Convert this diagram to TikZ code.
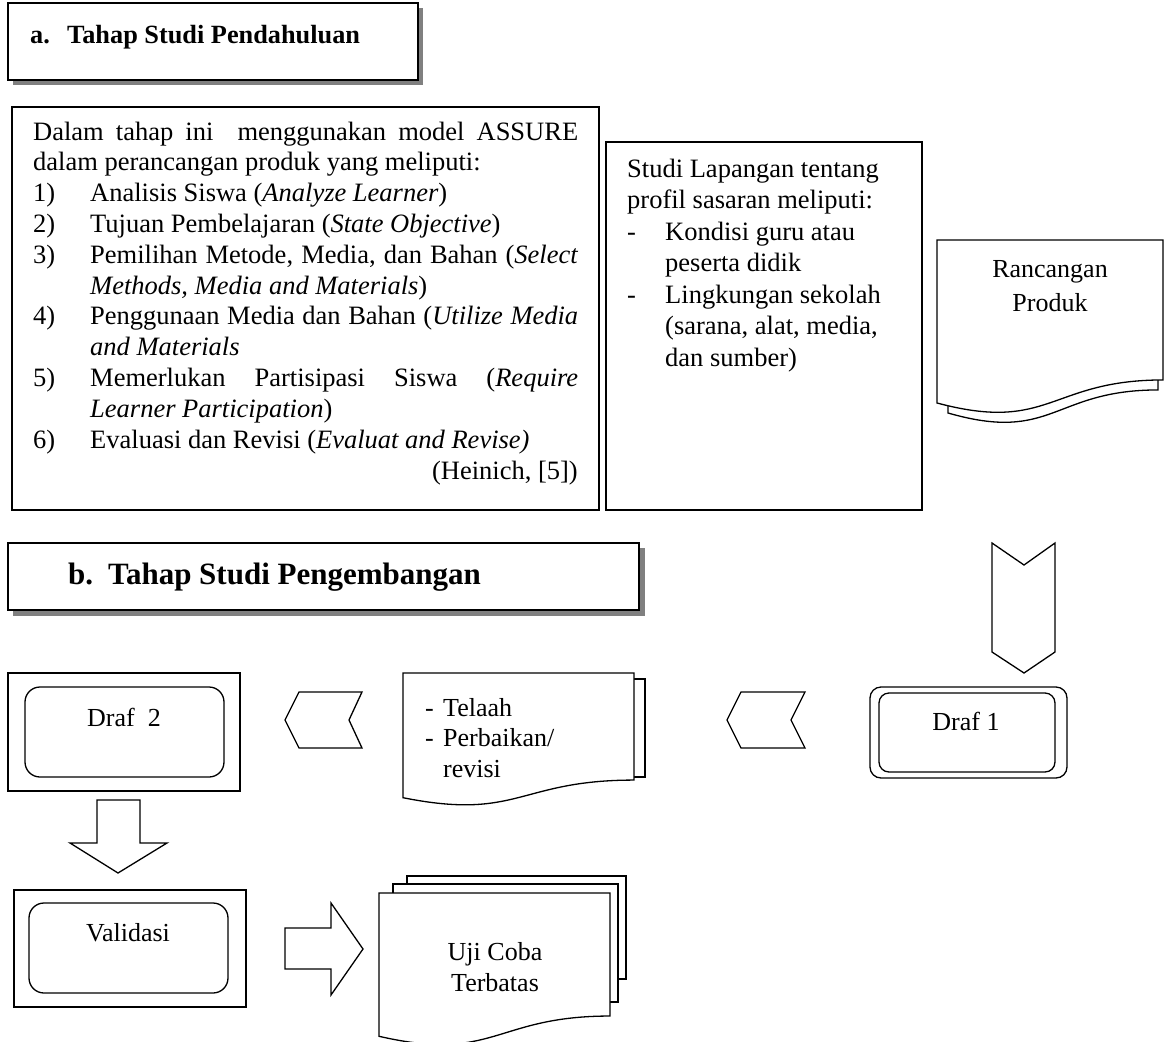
\documentclass[tikz,border=0pt]{standalone}
\usepackage{fontspec}
\setmainfont{Liberation Serif}
\definecolor{shadowgray}{HTML}{808080}
\tikzset{
  shp/.style={draw=black, line width=1.3pt, fill=white, line join=miter},
  body/.style={inner sep=0pt, anchor=base west, font=\fontsize{26.5}{30.8}\selectfont},
  bodyc/.style={inner sep=0pt, anchor=base, font=\fontsize{26}{30.8}\selectfont},
  hdra/.style={inner sep=0pt, anchor=base west, font=\fontsize{26.3}{30}\selectfont\bfseries},
  hdrb/.style={inner sep=0pt, anchor=base west, font=\fontsize{31}{36}\selectfont\bfseries},
}
% document shape: x0, y0, W, H
\newcommand{\mydocpath}[4]{%
  (#1,#2) -- ({#1+#3},#2) -- ({#1+#3},{#2+0.802*#4})
  .. controls ({#1+0.5*#3},{#2+0.802*#4}) and ({#1+0.5*#3},{#2+1.1075*#4}) ..
  (#1,{#2+0.934*#4}) -- cycle}
\begin{document}
\begin{tikzpicture}[x=1pt,y=-1pt]
\useasboundingbox (0,0) rectangle (1168,1042);

% ---- header a
\fill[shadowgray] (13,8) rectangle (423,85);
\draw[shp] (8,3) rectangle (418,80);
\node[hdra] (ha1) at (30,43) {a.};
\node[hdra] (ha2) at (67,43) {Tahap Studi Pendahuluan};

% ---- left box
\draw[shp] (12,107) rectangle (599,510);
\node[body] (l1) at (33,140) {\makebox[545pt][s]{Dalam tahap ini\ \ menggunakan model ASSURE}};
\node[body] (l2) at (33,170.8) {dalam perancangan produk yang meliputi:};
\node[body] (n1) at (33,201.6) {1)};
\node[body] (l3) at (90,201.6) {Analisis Siswa (\textit{Analyze Learner})};
\node[body] (n2) at (33,232.4) {2)};
\node[body] (l4) at (90,232.4) {Tujuan Pembelajaran (\textit{State Objective})};
\node[body] (n3) at (33,263.2) {3)};
\node[body] (l5) at (90,263.2) {\makebox[488pt][s]{Pemilihan Metode, Media, dan Bahan (\textit{Select}}};
\node[body] (l6) at (90,294) {\textit{Methods, Media and Materials})};
\node[body] (n4) at (33,324.8) {4)};
\node[body] (l7) at (90,324.8) {\makebox[488pt][s]{Penggunaan Media dan Bahan (\textit{Utilize Media}}};
\node[body] (l8) at (90,355.6) {\textit{and Materials}};
\node[body] (n5) at (33,386.4) {5)};
\node[body] (l9) at (90,386.4) {\makebox[488pt][s]{Memerlukan Partisipasi Siswa (\textit{Require}}};
\node[body] (l10) at (90,417.2) {\textit{Learner Participation})};
\node[body] (n6) at (33,448) {6)};
\node[body] (l11) at (90,448) {Evaluasi dan Revisi (\textit{Evaluat and Revise)}};
\node[body, anchor=base east] (l12) at (578,479.5) {(Heinich, [5])};

% ---- middle box
\draw[shp] (606,142) rectangle (922,510);
\node[body] (m1) at (627,177) {Studi Lapangan tentang};
\node[body] (m2) at (627,208.5) {profil sasaran meliputi:};
\node[body] (d1) at (627,240) {-};
\node[body] (m3) at (665,240) {Kondisi guru atau};
\node[body] (m4) at (665,271.5) {peserta didik};
\node[body] (d2) at (627,303) {-};
\node[body] (m5) at (665,303) {Lingkungan sekolah};
\node[body] (m6) at (665,334.5) {(sarana, alat, media,};
\node[body] (m7) at (665,366) {dan sumber)};

% ---- Rancangan Produk document
\draw[shp] \mydocpath{948}{250}{210}{174.5};
\draw[shp] \mydocpath{937}{240}{226}{174.5};
\node[bodyc] (r1) at (1050,277) {Rancangan};
\node[bodyc] (r2) at (1050,311) {Produk};

% ---- header b
\fill[shadowgray] (13,548) rectangle (645,616);
\draw[shp] (8,543) rectangle (639,610);
\node[hdrb] (hb1) at (68,584) {b.};
\node[hdrb] (hb2) at (108,584) {Tahap Studi Pengembangan};

% ---- down chevron
\draw[shp] (992,543) -- (1024,565) -- (1055,543) -- (1055,652) -- (1024,673) -- (992,652) -- cycle;

% ---- Draf 1
\draw[shp, rounded corners=11pt] (870,687) rectangle (1067,778);
\draw[shp, rounded corners=10pt] (879,693) rectangle (1055,772);
\node[bodyc] (dr1) at (966,730) {Draf 1};

% ---- left chevron (Draf1 -> Telaah)
\draw[shp] (727,720) -- (741,692) -- (805,692) -- (791,720) -- (805,748) -- (741,748) -- cycle;

% ---- Telaah document
\draw[shp] (414,679) rectangle (645,777);
\draw[shp] \mydocpath{403}{673}{231}{133.5};
\node[bodyc, anchor=base west] (t0) at (425,716) {-};
\node[bodyc, anchor=base west] (t1) at (443,716) {Telaah};
\node[bodyc, anchor=base west] (t2) at (425,746) {-};
\node[bodyc, anchor=base west] (t3) at (443,746) {Perbaikan/};
\node[bodyc, anchor=base west] (t4) at (443,777) {revisi};

% ---- left chevron (Telaah -> Draf2)
\draw[shp] (285,720) -- (299,692) -- (362,692) -- (349,720) -- (362,748) -- (299,748) -- cycle;

% ---- Draf 2
\draw[shp] (8,673) rectangle (240,791);
\draw[shp, rounded corners=15pt] (25,687) rectangle (224,777);
\node[bodyc] (dr2) at (124,726) {Draf\ \ 2};

% ---- down arrow
\draw[shp] (97,800) -- (140,800) -- (140,843) -- (167,843) -- (118,873) -- (70,843) -- (97,843) -- cycle;

% ---- Validasi
\draw[shp] (14,890) rectangle (246,1007);
\draw[shp, rounded corners=15pt] (29,903) rectangle (228,993);
\node[bodyc] (val) at (128,941) {Validasi};

% ---- right arrow
\draw[shp] (285,928) -- (331,928) -- (331,903) -- (363,949) -- (331,995) -- (331,969) -- (285,969) -- cycle;

% ---- Uji Coba Terbatas (multi document)
\draw[shp] (407,876) rectangle (626,979);
\draw[shp] (393,884) rectangle (618,1002);
\draw[shp] \mydocpath{379}{893}{231}{153.4};
\node[bodyc] (u1) at (495,960) {Uji Coba};
\node[bodyc] (u2) at (495,991) {Terbatas};
\end{tikzpicture}
\end{document}
